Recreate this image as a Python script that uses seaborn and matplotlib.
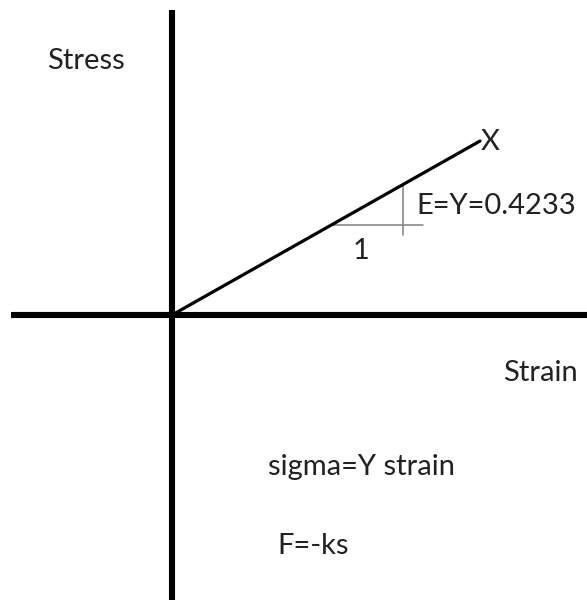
import matplotlib
matplotlib.use("Agg")
import matplotlib.pyplot as plt
import seaborn as sns
import pandas as pd

# Linear-elastic stress/strain relation
strain = [0.0, 1.0]
modulus = 0.4233
stress = [modulus * s for s in strain]

# Slope triangle (run along strain, rise = modulus * run)
tri_start = 0.517
tri_corner = 0.75
tri_h_end = 0.815
tri_v_end = 0.195

labels = {
    "stress": "Stress",
    "strain": "Strain",
    "slope": "E=Y=0.4233",
    "end": "X",
    "run": "1",
    "law": "sigma=Y strain",
    "hooke": "F=-ks",
}

W, H = 587, 600
sns.set_style("white")
plt.rcParams["font.family"] = ["Lato", "DejaVu Sans"]

fig = plt.figure(figsize=(W / 100, H / 100), dpi=100)
ax = fig.add_axes([0, 0, 1, 1])
ax.set_xlim(-172 / 308, 415 / 308)
ax.set_ylim(-285 / 411, 315 / 411)
ax.set_axis_off()

# Coordinate axes
ax.axhline(0, xmin=11 / W, xmax=1, color="black", lw=4.4, solid_capstyle="butt", zorder=2)
ax.axvline(0, ymin=0, ymax=(H - 10) / H, color="black", lw=4.4, solid_capstyle="butt", zorder=2)

# Stress-strain line
df = pd.DataFrame({"strain": strain, "stress": stress})
sns.lineplot(data=df, x="strain", y="stress", ax=ax, color="black", lw=2.3,
             solid_capstyle="round", zorder=3)

# Slope triangle
ax.plot([tri_start, tri_h_end], [modulus * tri_start] * 2, color="#808080", lw=1.1, zorder=1)
ax.plot([tri_corner, tri_corner], [modulus * tri_corner, tri_v_end], color="#808080", lw=1.1, zorder=1)

def label(px, py, s):
    fig.text(px / W, 1 - py / H, s, fontsize=21, color="#222222",
             ha="left", va="baseline")

label(47, 69, labels["stress"])
label(503, 381, labels["strain"])
label(416, 214, labels["slope"])
label(481, 150, labels["end"])
label(353, 259, labels["run"])
label(268, 475, labels["law"])
label(277, 554, labels["hooke"])

fig.savefig("out.png", dpi=100, facecolor="white")
